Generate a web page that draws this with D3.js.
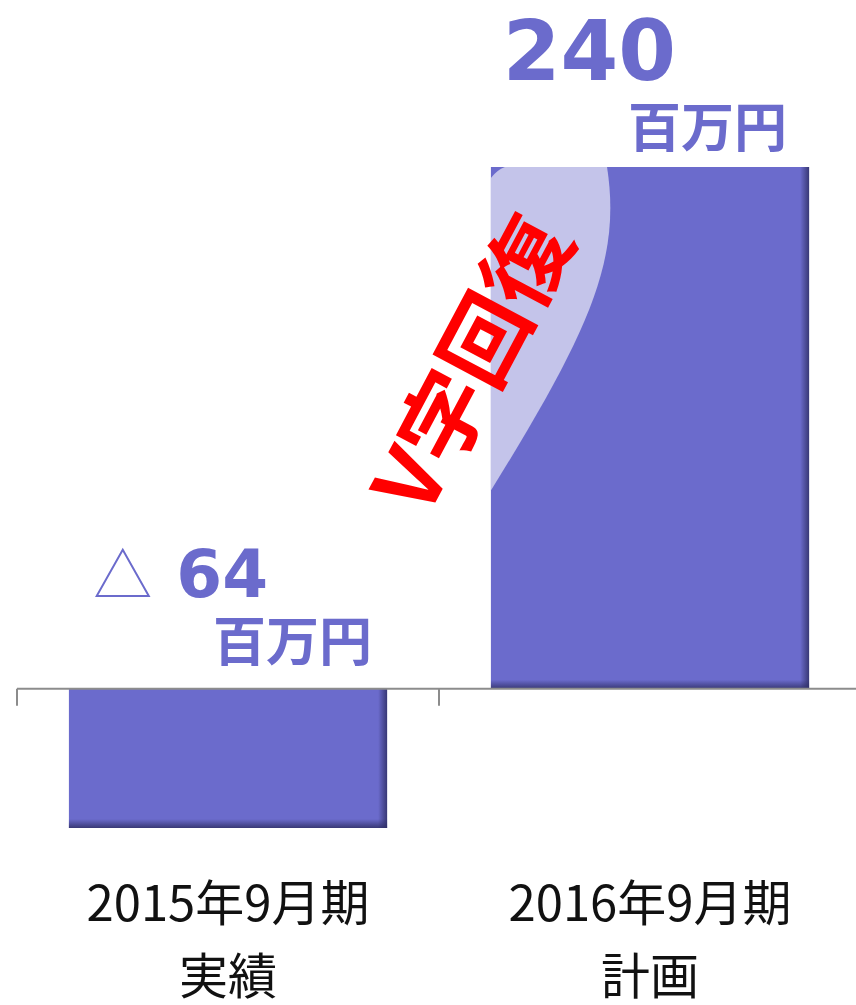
<!DOCTYPE html>
<html lang="ja">
<head>
<meta charset="UTF-8">
<title>V字回復</title>
<script src="https://cdn.jsdelivr.net/npm/d3@7"></script>
<style>
    body { margin: 0; background: #fff; }
</style>
</head>
<body>
<script>
    // data
    var periods = ["2015年9月期", "2016年9月期"];
    var kinds = ["実績", "計画"];
    var profits = [-64, 240];
    var valueLabels = ["△ 64", "240"];
    var unitLabel = "百万円";
    var headline = "V字回復";

    var width = 856, height = 1005;
    var barColor = "#6b6bcc";

    var svg = d3.select("body").append("svg")
        .attr("width", width)
        .attr("height", height);

    var defs = svg.append("defs");
    var gr = defs.append("linearGradient").attr("id", "shR")
        .attr("x1", "0").attr("x2", "1").attr("y1", "0").attr("y2", "0");
    gr.append("stop").attr("offset", "0").attr("stop-color", "#2f2f66").attr("stop-opacity", 0);
    gr.append("stop").attr("offset", "1").attr("stop-color", "#2f2f66").attr("stop-opacity", 0.85);
    var gb = defs.append("linearGradient").attr("id", "shB")
        .attr("x1", "0").attr("x2", "0").attr("y1", "0").attr("y2", "1");
    gb.append("stop").attr("offset", "0").attr("stop-color", "#2f2f66").attr("stop-opacity", 0);
    gb.append("stop").attr("offset", "1").attr("stop-color", "#2f2f66").attr("stop-opacity", 0.85);

    var x = d3.scaleBand()
        .domain(periods)
        .range([17, 861])
        .paddingInner(0.246)
        .paddingOuter(0.123);

    var y = d3.scaleLinear()
        .domain([-64, 240])
        .range([828, 167]);

    var bw = x.bandwidth();
    var shade = 9;

    var bars = svg.selectAll("g.bar")
        .data(periods)
        .enter().append("g")
        .attr("class", "bar");

    bars.append("rect")
        .attr("x", function (d) { return x(d); })
        .attr("y", function (d, i) { return y(Math.max(0, profits[i])); })
        .attr("width", bw)
        .attr("height", function (d, i) { return Math.abs(y(profits[i]) - y(0)); })
        .attr("fill", barColor);

    // light swoosh on the plan bar (drawn under the shadows)
    var bx = x(periods[1]), barTop = y(profits[1]), barBot = y(0);
    var hh = barBot - barTop;
    var swoosh = d3.path();
    swoosh.moveTo(bx, barTop + 11);
    swoosh.quadraticCurveTo(bx + 6, barTop + 3, bx + 14, barTop);
    swoosh.lineTo(bx + bw * 0.365, barTop);
    swoosh.bezierCurveTo(bx + bw * 0.41, barTop + hh * 0.178, bx + bw * 0.311, barTop + hh * 0.313, bx, barTop + hh * 0.62);
    swoosh.closePath();
    svg.append("path")
        .attr("d", swoosh.toString())
        .attr("fill", "#c4c4ea");

    // inner shadow right + bottom
    var shades = svg.selectAll("g.shade")
        .data(periods)
        .enter().append("g")
        .attr("class", "shade");
    shades.append("rect")
        .attr("x", function (d) { return x(d) + bw - shade; })
        .attr("y", function (d, i) { return y(Math.max(0, profits[i])); })
        .attr("width", shade)
        .attr("height", function (d, i) { return Math.abs(y(profits[i]) - y(0)); })
        .attr("fill", "url(#shR)");
    shades.append("rect")
        .attr("x", function (d) { return x(d); })
        .attr("y", function (d, i) { return y(Math.min(0, profits[i])) - shade; })
        .attr("width", bw)
        .attr("height", shade)
        .attr("fill", "url(#shB)");

    // axis
    var axis = svg.append("g").attr("stroke", "#8c8c8c").attr("stroke-width", 2);
    axis.append("line")
        .attr("x1", 17).attr("x2", width)
        .attr("y1", y(0)).attr("y2", y(0));
    axis.selectAll("line.tick")
        .data(periods)
        .enter().append("line")
        .attr("class", "tick")
        .attr("x1", function (d) { return x(d) - x.step() * x.paddingInner() / 2 ; })
        .attr("x2", function (d) { return x(d) - x.step() * x.paddingInner() / 2 ; })
        .attr("y1", y(0)).attr("y2", y(0) + 17);

    // category labels
    var cat = svg.selectAll("text.cat")
        .data(periods)
        .enter().append("text")
        .attr("class", "cat")
        .attr("text-anchor", "middle")
        .attr("font-family", "'Noto Sans CJK JP', sans-serif")
        .attr("font-size", 49)
        .attr("fill", "#111");
    cat.append("tspan")
        .attr("x", function (d) { return x(d) + bw / 2; })
        .attr("y", 921)
        .text(function (d) { return d; });
    cat.append("tspan")
        .attr("x", function (d) { return x(d) + bw / 2; })
        .attr("y", 994)
        .text(function (d, i) { return kinds[i]; });

    // value labels
    var labelColor = "#6b6bcc";
    // actual (negative)
    var x0 = x(periods[0]) + bw;
    var neg = svg.append("text")
        .attr("x", x0 - 119)
        .attr("y", 597)
        .attr("text-anchor", "end")
        .attr("fill", labelColor)
        .attr("font-family", "'DejaVu Sans', sans-serif")
        .attr("font-size", 66)
        .attr("font-weight", "bold");
    neg.append("tspan")
        .attr("font-family", "'Noto Sans CJK JP', sans-serif")
        .attr("font-weight", 300)
        .attr("font-size", 59)
        .text(valueLabels[0].split(" ")[0] + " ");
    neg.append("tspan")
        .attr("dx", 11)
        .text(valueLabels[0].split(" ")[1]);
    svg.append("text")
        .attr("x", x0 - 15)
        .attr("y", 661)
        .attr("text-anchor", "end")
        .attr("fill", labelColor)
        .attr("font-family", "'Noto Sans CJK JP', sans-serif")
        .attr("font-size", 53)
        .attr("font-weight", "bold")
        .text(unitLabel);

    // plan
    var x1 = x(periods[1]) + bw;
    svg.append("text")
        .attr("x", x1 - 133)
        .attr("y", 80)
        .attr("text-anchor", "end")
        .attr("fill", labelColor)
        .attr("font-family", "'DejaVu Sans', sans-serif")
        .attr("font-size", 83)
        .attr("font-weight", "bold")
        .text(valueLabels[1]);
    svg.append("text")
        .attr("x", x1 - 22)
        .attr("y", 147)
        .attr("text-anchor", "end")
        .attr("fill", labelColor)
        .attr("font-family", "'Noto Sans CJK JP', sans-serif")
        .attr("font-size", 53)
        .attr("font-weight", "bold")
        .text(unitLabel);

    // headline
    svg.append("text")
        .attr("transform", "translate(467,361) rotate(-62)")
        .attr("text-anchor", "middle")
        .attr("dominant-baseline", "central")
        .attr("fill", "#ff0000")
        .attr("font-family", "'Noto Sans CJK JP', sans-serif")
        .attr("font-size", 88)
        .attr("font-weight", 700)
        .text(headline);
</script>
</body>
</html>
